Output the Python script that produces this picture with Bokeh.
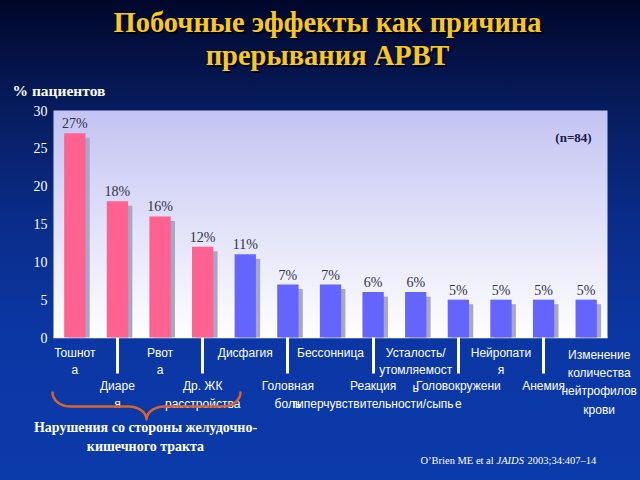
import numpy as np
from bokeh.plotting import figure
from bokeh.models import (ColumnDataSource, Range1d, FixedTicker, Label,
                          PolyAnnotation, LinearColorMapper)
from bokeh.core.properties import value
from bokeh.embed import file_html
from bokeh.resources import INLINE

# ---------------- data ----------------
categories = [
    "Тошнот\nа", "Диаре\nя", "Рвот\nа", "Др. ЖК\nрасстройства", "Дисфагия",
    "Головная\nболь", "Бессонница", "Реакция\nгиперчувствительности/сыпь",
    "Усталость/\nутомляемост\nь", "Головокружени\nе", "Нейропати\nя", "Анемия",
    "Изменение\nколичества\nнейтрофилов\nкрови",
]
percent = [27, 18, 16, 12, 11, 7, 7, 6, 6, 5, 5, 5, 5]
gi_group = [True, True, True, True, False, False, False, False, False, False, False, False, False]
label_row = [1, 2, 1, 2, 1, 2, 1, 2, 1, 2, 1, 2, 3]
y_ticks = [0, 5, 10, 15, 20, 25, 30]

title_text = "Побочные эффекты как причина\nпрерывания АРВТ"
y_title = "% пациентов"
n_note = "(n=84)"
brace_text = "Нарушения со стороны желудочно-\nкишечного тракта"
source_parts = ["O’Brien ME et al", "JAIDS", "2003;34:407–14"]

# ---------------- styles / layout ----------------
W, H = 640, 480
CH_L, CH_R, CH_T, CH_B = 53, 607, 110, 337      # chart area in canvas pixels
PINK = "#ff6290"
BLUE = "#6464ff"
SHADOW = "#a6a6c6"
BAR_W = 0.5
SHADOW_DX = 0.1
SHADOW_DY = 0.6
SERIF = "Liberation Serif"
SANS = "Liberation Sans"

n = len(percent)
x0, x1 = -0.5, n - 0.5
y0, y1 = y_ticks[0], y_ticks[-1]
kx = (x1 - x0) / (CH_R - CH_L)
ky = (y1 - y0) / (CH_B - CH_T)
xr = Range1d(x0 - CH_L * kx, x1 + (W - CH_R) * kx)
yr = Range1d(y0 - (H - CH_B) * ky, y1 + CH_T * ky)

p = figure(width=W, height=H, output_backend="svg", toolbar_location=None,
           x_range=xr, y_range=yr, min_border=0)
p.title.visible = False
p.border_fill_color = None
p.background_fill_color = None
p.outline_line_color = None
p.styles = {"background": "linear-gradient(to bottom, #00062a 0%, #061a58 20%, "
                          "#0a2c88 45%, #0b37a4 70%, #0b3aaa 100%)"}
p.xgrid.visible = False
p.ygrid.visible = False

# chart-area gradient (white at bottom -> lavender at top)
N = 128
grad = np.linspace(0, 1, N).reshape(N, 1)
c0 = np.array([255, 255, 255])
c1 = np.array([196, 196, 244])
pal = ["#%02x%02x%02x" % tuple((c0 + (c1 - c0) * t).astype(int)) for t in np.linspace(0, 1, 256)]
mapper = LinearColorMapper(palette=pal, low=0, high=1)
p.image(image=[grad], x=x0, y=y0, dw=x1 - x0, dh=y1 - y0, color_mapper=mapper, level="image")

# bottom line of chart area
p.segment(x0=[x0], y0=[y0], x1=[x1], y1=[y0], line_color="white", line_width=1.5)

idx = np.arange(n)
vals = np.array(percent, dtype=float)
src = ColumnDataSource(dict(
    x=idx, top=vals,
    sx=idx + SHADOW_DX, stop=vals - SHADOW_DY,
    color=[PINK if g else BLUE for g in gi_group],
    lbl=[f"{v}%" for v in percent],
))
p.vbar(x="sx", top="stop", width=BAR_W, fill_color=SHADOW, line_color=None, source=src)
p.vbar(x="x", top="top", width=BAR_W, fill_color="color", line_color=None, source=src)
p.text(x="x", y="top", text="lbl", source=src, text_align="center",
       text_baseline="bottom", y_offset=-2, text_font=value(SERIF),
       text_font_size="14px", text_color="#303048")

# x axis: fixed at 0, long white ticks + second-row category labels
row2 = [i for i, r in enumerate(label_row) if r == 2]
xa = p.xaxis[0]
xa.fixed_location = y0
xa.ticker = FixedTicker(ticks=row2)
xa.major_label_overrides = {i: categories[i] for i in row2}
xa.major_tick_out = 36
xa.major_tick_in = 0
xa.major_tick_line_color = "white"
xa.major_tick_line_width = 3
xa.minor_tick_line_color = None
xa.axis_line_color = None
xa.major_label_standoff = 5
xa.major_label_text_font = SANS
xa.major_label_text_font_size = "12px"
xa.major_label_text_color = "white"
xa.major_label_text_line_height = 1.35

ya = p.yaxis[0]
ya.fixed_location = x0
ya.ticker = FixedTicker(ticks=y_ticks)
ya.axis_line_color = None
ya.major_tick_line_color = None
ya.minor_tick_line_color = None
ya.major_tick_out = 0
ya.major_tick_in = 0
ya.major_label_standoff = 6
ya.major_label_text_color = "white"
ya.major_label_text_font = SERIF
ya.major_label_text_font_size = "14px"

# first-row (and last) category labels
row_top = {1: 345, 3: 347}
row_dx = {1: 0, 3: 13}
row_lh = {1: 1.25, 3: 1.32}
for i, (c, r) in enumerate(zip(categories, label_row)):
    if r == 2:
        continue
    p.add_layout(Label(x=i, y=row_top[r], x_units="data", y_units="canvas",
                       x_offset=row_dx[r], text=c, text_align="center",
                       text_baseline="top", text_font=SANS, text_font_size="12px",
                       text_color="white", text_line_height=row_lh[r]))

# title with shadow
for dx, dy, col in [(2, 2, "#000010"), (0, 0, "#f8c81c")]:
    p.add_layout(Label(x=327 + dx, y=6 + dy, x_units="canvas", y_units="canvas",
                       text=title_text, text_align="center", text_baseline="top",
                       text_font=SERIF, text_font_style="bold", text_font_size="28.5px",
                       text_color=col, text_line_height=1.07))

p.add_layout(Label(x=12, y=90, x_units="canvas", y_units="canvas", text=y_title,
                   text_align="left", text_baseline="middle", text_font=SERIF,
                   text_font_style="bold", text_font_size="15.5px", text_color="white"))

p.add_layout(Label(x=573, y=137, x_units="canvas", y_units="canvas", text=n_note,
                   text_align="center", text_baseline="middle", text_font=SERIF,
                   text_font_style="bold", text_font_size="13px", text_color="#1a1a48"))

# brace under the gastro-intestinal group
def arc(cx, cy, rx, ry, t0, t1, k=12):
    t = np.linspace(t0, t1, k)
    return list(cx + rx * np.cos(t)), list(cy + ry * np.sin(t))

L, R, M, Y0, Y1, Y2, RR = 52, 240, 146, 392, 406, 419, 18
xs, ys = [], []
a = arc(L + RR, Y0, RR, Y1 - Y0, np.pi, np.pi / 2); xs += a[0]; ys += a[1]
a = arc(M - RR, Y2, RR, Y2 - Y1, -np.pi / 2, 0); xs += a[0]; ys += a[1]
a = arc(M + RR, Y2, RR, Y2 - Y1, np.pi, 3 * np.pi / 2); xs += a[0]; ys += a[1]
a = arc(R - RR, Y0, RR, Y1 - Y0, np.pi / 2, 0); xs += a[0]; ys += a[1]
p.add_layout(PolyAnnotation(xs=xs + xs[::-1], ys=ys + ys[::-1], xs_units="canvas",
                            ys_units="canvas", fill_alpha=0, line_color="#d8642c",
                            line_alpha=1.0, line_width=2.5, line_join="round"))

p.add_layout(Label(x=145, y=419, x_units="canvas", y_units="canvas", text=brace_text,
                   text_align="center", text_baseline="top", text_font=SERIF,
                   text_font_style="bold", text_font_size="14px", text_color="white",
                   text_line_height=1.3))

# citation
for xpos, txt, style in [(420, source_parts[0], "normal"), (496, source_parts[1], "italic"),
                         (527, source_parts[2], "normal")]:
    p.add_layout(Label(x=xpos, y=460, x_units="canvas", y_units="canvas", text=txt,
                       text_align="left", text_baseline="middle", text_font=SERIF,
                       text_font_style=style, text_font_size="10.5px", text_color="white"))

open("out.html", "w").write(file_html(p, INLINE))
